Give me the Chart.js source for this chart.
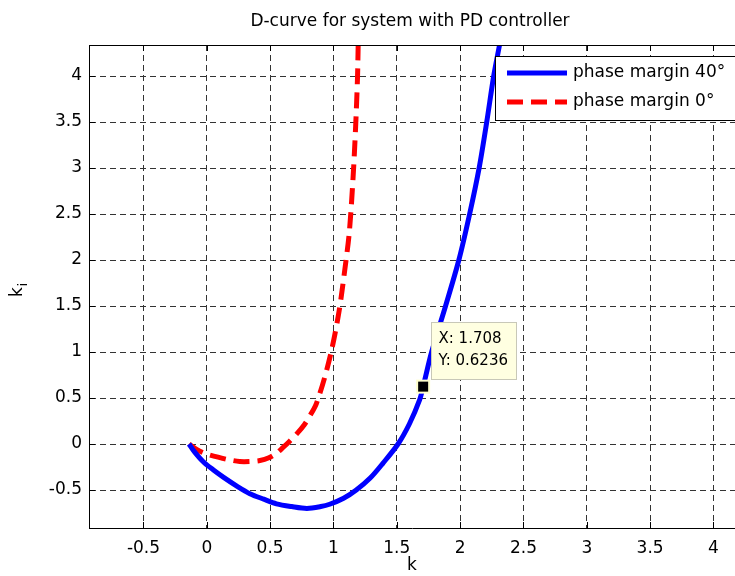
<!DOCTYPE html>
<html>
<head>
<meta charset="utf-8">
<script src="https://cdn.jsdelivr.net/npm/chart.js@4.4.0/dist/chart.umd.min.js"></script>
<style>
  html, body { margin: 0; padding: 0; background: #fff; }
  #wrap { width: 735px; height: 576px; position: relative; }
</style>
</head>
<body>
<div id="wrap"><canvas id="dcurve"></canvas></div>
<script>
const titleText = 'D-curve for system with PD controller';
const xLabel = 'k';
const yLabel = 'k';
const yLabelSub = 'i';

const seriesNames = ['phase margin 40\u00b0', 'phase margin 0\u00b0'];

// phase margin 40 deg
const blueK  = [-0.14, -0.10, -0.03, 0.05, 0.13, 0.24, 0.34, 0.45, 0.55, 0.67, 0.79, 0.90, 0.97, 1.08, 1.18, 1.29, 1.39, 1.51, 1.60, 1.68, 1.708, 1.775, 1.885, 1.99, 2.075, 2.15, 2.21, 2.265, 2.31, 2.34];
const blueKi = [0.0, -0.08, -0.19, -0.28, -0.36, -0.46, -0.54, -0.60, -0.65, -0.68, -0.70, -0.68, -0.655, -0.59, -0.50, -0.37, -0.21, 0.0, 0.22, 0.48, 0.6236, 1.0, 1.5, 2.0, 2.5, 3.0, 3.5, 4.0, 4.33, 4.55];

// phase margin 0 deg
const redK  = [-0.14, -0.08, 0.00, 0.08, 0.17, 0.26, 0.34, 0.42, 0.49, 0.55, 0.60, 0.65, 0.71, 0.77, 0.82, 0.865, 0.93, 0.99, 1.045, 1.09, 1.125, 1.155, 1.175, 1.19, 1.195, 1.20];
const redKi = [0.0, -0.06, -0.11, -0.14, -0.17, -0.19, -0.19, -0.18, -0.15, -0.10, -0.04, 0.025, 0.11, 0.21, 0.32, 0.44, 0.72, 1.05, 1.45, 1.9, 2.3, 2.9, 3.45, 3.99, 4.33, 4.6];

// data tip
const tipK = 1.708;
const tipKi = 0.6236;
const tipLines = ['X: 1.708', 'Y: 0.6236'];

const xMin = -0.93, xMax = 4.17;
const yMin = -0.913, yMax = 4.337;

const toPts = (xs, ys) => xs.map((v, i) => ({ x: v, y: ys[i] }));

const FONT = '"DejaVu Sans", "Liberation Sans", Arial, sans-serif';
Chart.defaults.font.family = FONT;
Chart.defaults.color = '#000';

const decor = {
  id: 'decor',
  afterDraw(chart) {
    const ctx = chart.ctx;
    const a = chart.chartArea;
    const xs = chart.scales.x, ys = chart.scales.y;
    ctx.save();

    // top frame line + inward ticks
    ctx.strokeStyle = '#000';
    ctx.lineWidth = 1;
    ctx.setLineDash([]);
    ctx.beginPath();
    ctx.moveTo(a.left, a.top + 0.5);
    ctx.lineTo(a.right, a.top + 0.5);
    xs.ticks.forEach(t => {
      const px = Math.round(xs.getPixelForValue(t.value)) + 0.5;
      ctx.moveTo(px, a.bottom); ctx.lineTo(px, a.bottom - 6);
      ctx.moveTo(px, a.top); ctx.lineTo(px, a.top + 6);
    });
    ys.ticks.forEach(t => {
      const py = Math.round(ys.getPixelForValue(t.value)) + 0.5;
      ctx.moveTo(a.left, py); ctx.lineTo(a.left + 6, py);
    });
    ctx.stroke();

    // title
    ctx.fillStyle = '#000';
    ctx.font = '17px ' + FONT;
    ctx.textAlign = 'center';
    ctx.textBaseline = 'middle';
    ctx.fillText(titleText, 410, 22);

    // x label
    ctx.fillText(xLabel, 412, 566);

    // y label with subscript
    ctx.save();
    ctx.translate(22, 290);
    ctx.rotate(-Math.PI / 2);
    ctx.textAlign = 'left';
    ctx.textBaseline = 'alphabetic';
    ctx.font = '17px ' + FONT;
    ctx.fillText(yLabel, -7, 0);
    const kw = ctx.measureText(yLabel).width;
    ctx.font = '12px ' + FONT;
    ctx.fillText(yLabelSub, -7 + kw + 1, 5);
    ctx.restore();

    // legend box
    const lx = 495, ly = 56, lw = 250, lh = 64;
    ctx.fillStyle = '#fff';
    ctx.fillRect(lx, ly, lw, lh);
    ctx.strokeStyle = '#000';
    ctx.lineWidth = 1;
    ctx.strokeRect(lx + 0.5, ly + 0.5, lw, lh);
    chart.data.datasets.forEach((ds, i) => {
      const yy = ly + 17 + i * 29;
      ctx.strokeStyle = ds.borderColor;
      ctx.lineWidth = ds.borderWidth;
      ctx.setLineDash(ds.borderDash || []);
      ctx.beginPath();
      ctx.moveTo(507, yy);
      ctx.lineTo(567, yy);
      ctx.stroke();
      ctx.setLineDash([]);
      ctx.fillStyle = '#000';
      ctx.font = '17px ' + FONT;
      ctx.textAlign = 'left';
      ctx.textBaseline = 'middle';
      ctx.fillText(ds.label, 573, yy);
    });

    // data tip marker and box
    const px = xs.getPixelForValue(tipK), py = ys.getPixelForValue(tipKi);
    ctx.fillStyle = '#ffffcc';
    ctx.fillRect(px - 7, py - 7, 14, 14);
    ctx.fillStyle = '#000';
    ctx.fillRect(px - 5, py - 5, 10, 10);
    const bx = Math.round(px + 8) + 0.5, by = Math.round(py - 65) + 0.5;
    ctx.fillStyle = '#ffffe1';
    ctx.fillRect(bx, by, 85, 57);
    ctx.lineWidth = 1;
    ctx.strokeStyle = '#c8c8b8';
    ctx.strokeRect(bx, by, 85, 57);
    ctx.fillStyle = '#000';
    ctx.font = '15px ' + FONT;
    ctx.textAlign = 'left';
    ctx.textBaseline = 'middle';
    tipLines.forEach((s, i) => ctx.fillText(s, bx + 7, by + 17 + i * 22));

    ctx.restore();
  }
};

new Chart(document.getElementById('dcurve'), {
  type: 'line',
  data: {
    datasets: [
      {
        label: seriesNames[0],
        data: toPts(blueK, blueKi),
        borderColor: '#0000ff',
        borderWidth: 5,
        pointRadius: 0,
        tension: 0.3,
        fill: false
      },
      {
        label: seriesNames[1],
        data: toPts(redK, redKi),
        borderColor: '#ff0000',
        borderWidth: 5,
        borderDash: [16, 8],
        pointRadius: 0,
        tension: 0.3,
        fill: false
      }
    ]
  },
  options: {
    responsive: true,
    maintainAspectRatio: false,
    animation: false,
    layout: { padding: { top: 45, left: 0, right: 0, bottom: 0 } },
    plugins: {
      legend: { display: false },
      title: { display: false },
      tooltip: { enabled: false }
    },
    scales: {
      x: {
        type: 'linear',
        min: xMin,
        max: xMax,
        afterFit: s => { s.height = 48; },
        ticks: {
          stepSize: 0.5,
          includeBounds: false,
          padding: 10,
          font: { size: 17 },
          callback: v => String(Math.round(v * 10) / 10)
        },
        grid: { color: '#333', lineWidth: 1, drawTicks: false },
        border: { display: true, color: '#000', width: 1, dash: [6, 4] }
      },
      y: {
        type: 'linear',
        min: yMin,
        max: yMax,
        afterFit: s => { s.width = 89; },
        ticks: {
          stepSize: 0.5,
          includeBounds: false,
          padding: 7,
          font: { size: 17 },
          callback: v => String(Math.round(v * 10) / 10)
        },
        grid: { color: '#333', lineWidth: 1, drawTicks: false },
        border: { display: true, color: '#000', width: 1, dash: [6, 4] }
      }
    }
  },
  plugins: [decor]
});
</script>
</body>
</html>
